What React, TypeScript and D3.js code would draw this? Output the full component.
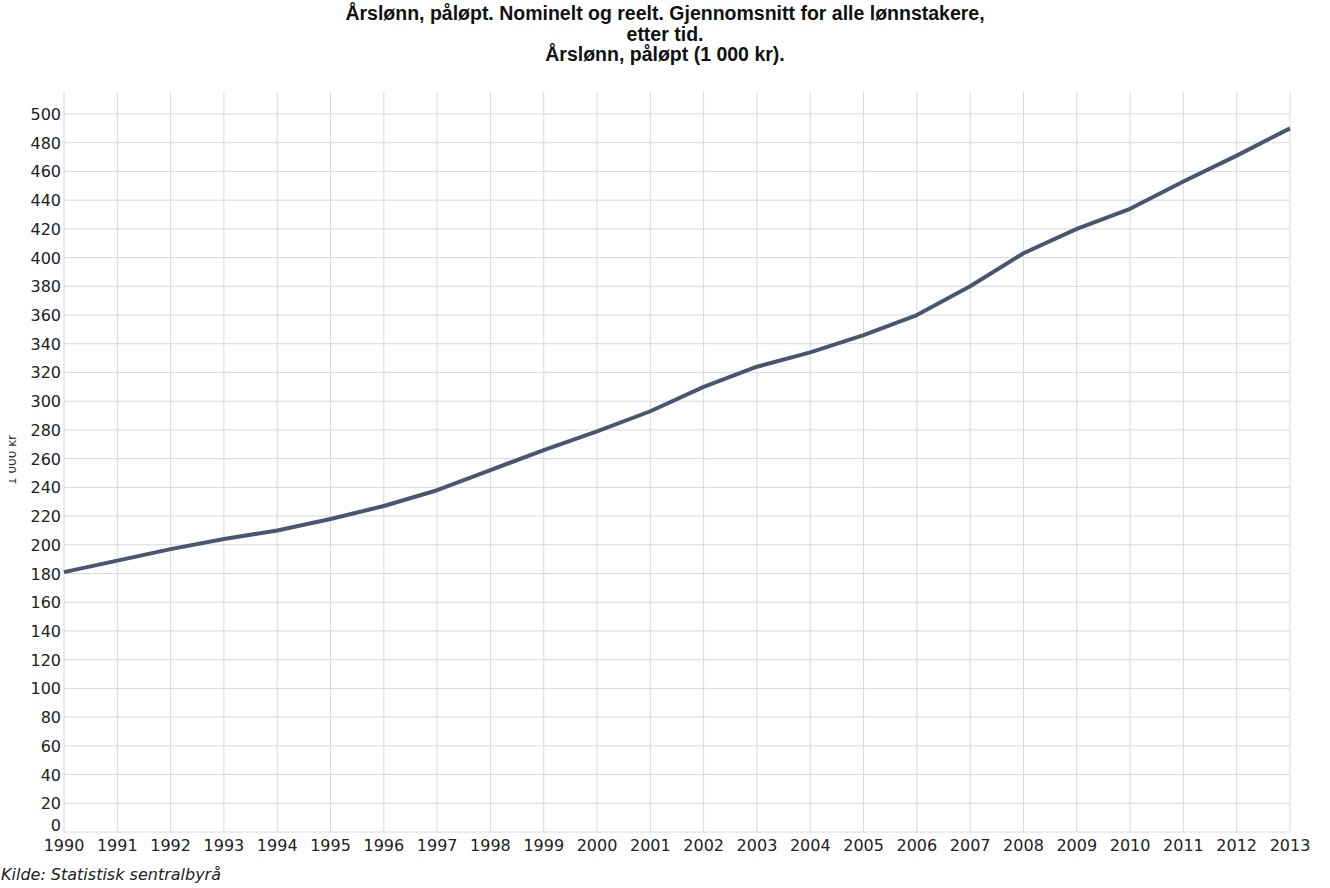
import React from "react";
import * as d3 from "d3";

const years = [1990,1991,1992,1993,1994,1995,1996,1997,1998,1999,2000,2001,2002,2003,2004,2005,2006,2007,2008,2009,2010,2011,2012,2013];
const wages = [181,189,197,204,210,218,227,238,252,266,279,293,310,324,334,346,360,380,403,420,434,453,471,490];
const yTicks = d3.range(0, 501, 20);
const titleLines = [
  "Årslønn, påløpt. Nominelt og reelt. Gjennomsnitt for alle lønnstakere,",
  "etter tid.",
  "Årslønn, påløpt (1 000 kr).",
];
const yLabel = "1 000 kr";
const source = "Kilde: Statistisk sentralbyrå";

const W = 1330, H = 888;
const L = 64, R = 1290, T = 92, B = 832;

export default function App() {
  const x = d3.scaleLinear().domain([1990, 2013]).range([L, R]);
  const y = d3.scaleLinear().domain([0, 500]).range([B, 114]);
  const line = d3.line<number>().x((_, i) => x(years[i])).y((d) => y(d));
  const grid = "#d9d9d9";
  const font = "'DejaVu Sans', Verdana, sans-serif";
  return (
    <svg width={W} height={H} style={{ position: "absolute", left: 0, top: 0, display: "block", background: "#fff" }}>
      <defs>
        <clipPath id="ylab"><rect x={9} y={0} width={40} height={H} /></clipPath>
      </defs>
      {titleLines.map((t, i) => (
        <text key={i} x={W / 2} y={20 + i * 20.5} textAnchor="middle" fontFamily="'Liberation Sans', Arial, sans-serif" fontWeight="bold" fontSize={19.5} fill="#111">{t}</text>
      ))}
      {yTicks.map((v) => (
        <line key={"h" + v} x1={L} x2={R} y1={y(v)} y2={y(v)} stroke={grid} strokeWidth={1} />
      ))}
      {years.map((yr) => (
        <line key={"v" + yr} x1={x(yr)} x2={x(yr)} y1={T} y2={B} stroke={grid} strokeWidth={1} />
      ))}
      {yTicks.map((v) => (
        <text key={"yt" + v} x={L - 3} y={y(v) + (v === 0 ? -1 : 6)} textAnchor="end" fontFamily={font} fontSize={16} fill="#222">{v}</text>
      ))}
      {years.map((yr) => (
        <text key={"xt" + yr} x={x(yr)} y={851} textAnchor="middle" fontFamily={font} fontSize={16} fill="#222">{yr}</text>
      ))}
      <path d={line(wages) || ""} fill="none" stroke="#4a5670" strokeWidth={4} strokeLinejoin="round" />
      <g clipPath="url(#ylab)">
        <text transform={`translate(16,460) rotate(-90)`} textAnchor="middle" fontFamily={font} fontSize={12} fill="#333">{yLabel}</text>
      </g>
      <text x={1} y={880} fontFamily={font} fontStyle="italic" fontSize={16} fill="#222">{source}</text>
    </svg>
  );
}
